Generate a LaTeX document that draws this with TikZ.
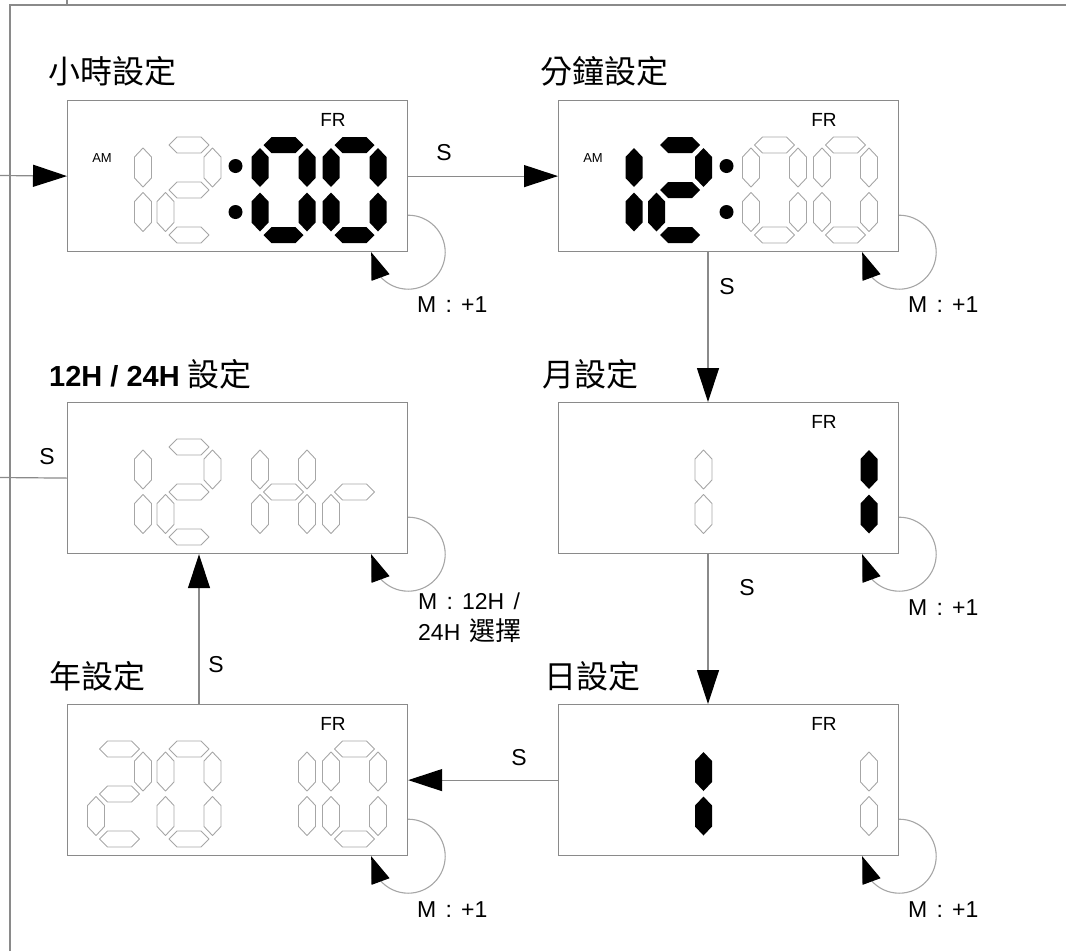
\documentclass[tikz,border=0pt]{standalone}
\usepackage{fontspec}
\setmainfont{Liberation Sans}
\newfontfamily\cjk{Noto Sans CJK TC}
\usetikzlibrary{arrows.meta,bending}

\definecolor{linegray}{HTML}{8A8A8A}
\definecolor{seggray}{HTML}{A6A6A6}

% segment shapes: centre (x,y) in pixel coordinates (y downwards)
\newcommand\hseg[3]{\path[#3] ({#1-20},{-(#2)}) -- ++(8,8) -- ++(24,0) -- ++(8,-8) -- ++(-8,-8) -- ++(-24,0) -- cycle;}
\newcommand\vseg[3]{\path[#3] ({#1},{-(#2)+19.5}) -- ++(8.5,-9) -- ++(0,-21) -- ++(-8.5,-9) -- ++(-8.5,9) -- ++(0,21) -- cycle;}
% seven segments: #1 = x of left column, #2 = y offset of row, #3 = style
\newcommand\segA[3]{\hseg{#1+23.5}{#2+145}{#3}}
\newcommand\segB[3]{\vseg{#1+47}{#2+167.5}{#3}}
\newcommand\segC[3]{\vseg{#1+47}{#2+212}{#3}}
\newcommand\segD[3]{\hseg{#1+23.5}{#2+235}{#3}}
\newcommand\segE[3]{\vseg{#1}{#2+212}{#3}}
\newcommand\segF[3]{\vseg{#1}{#2+167.5}{#3}}
\newcommand\segG[3]{\hseg{#1+23.5}{#2+190}{#3}}
\newcommand\wsp{\hspace{0.4em}}

\begin{document}
\begin{tikzpicture}[x=1pt,y=1pt,
  box/.style={draw=linegray, line width=1.2pt, minimum width=340pt, minimum height=151pt, inner sep=0pt, anchor=north west},
  ln/.style={draw=linegray, line width=1.2pt},
  arr/.style={ln, -{Triangle[length=34pt,width=22pt,color=black]}},
  loopar/.style={draw=seggray, line width=1.1pt, -{Triangle[length=27pt,width=19pt,flex,color=black]}},
  lit/.style={fill=black},
  dim/.style={draw=seggray, line width=0.9pt, line join=round},
  title/.style={anchor=base west, inner sep=0pt, font=\cjk\fontsize{32}{38}\selectfont},
  lbl/.style={inner sep=0pt, font=\fontsize{23}{27}\selectfont},
  mlbl/.style={inner sep=0pt, anchor=west, font=\fontsize{23}{31}\selectfont},
  fr/.style={inner sep=0pt, font=\fontsize{19}{22}\selectfont},
  am/.style={inner sep=0pt, font=\fontsize{13}{15}\selectfont}]
\useasboundingbox (0,0) rectangle (1066,-951);

% frame
\draw[ln] (10,-951) -- (10,-5) -- (1066,-5);
\draw[ln] (67,0) -- (67,-5);

% boxes
\node[box] (b1) at (67,-100) {};
\node[box] (b2) at (558,-100) {};
\node[box] (b3) at (558,-402) {};
\node[box] (b6) at (67,-402) {};
\node[box] (b5) at (67,-704) {};
\node[box] (b4) at (558,-704) {};

% titles
\node[title] (t1) at (48,-83) {小時設定};
\node[title] (t2) at (540,-83) {分鐘設定};
\node[title] (t3) at (542,-386) {月設定};
\node[anchor=base west, inner sep=0pt] (t6) at (49,-386) {\fontsize{29}{34}\selectfont\bfseries 12H / 24H {\cjk\mdseries\fontsize{32}{38}\selectfont 設定}};
\node[title] (t5) at (49,-688) {年設定};
\node[title] (t4) at (544,-688) {日設定};

% box 1 : hours
\node[am] (am1) at (102,-158) {AM};
\node[fr] (fr1) at (333,-120) {FR};
\segB{96}{0}{dim}\segC{96}{0}{dim}
\segA{165.5}{0}{dim}\segB{165.5}{0}{dim}\segG{165.5}{0}{dim}\segE{165.5}{0}{dim}\segD{165.5}{0}{dim}
\fill (235.5,-166) circle (7); \fill (235.5,-212) circle (7);
\segA{260}{0}{lit}\segB{260}{0}{lit}\segC{260}{0}{lit}\segD{260}{0}{lit}\segE{260}{0}{lit}\segF{260}{0}{lit}
\segA{331}{0}{lit}\segB{331}{0}{lit}\segC{331}{0}{lit}\segD{331}{0}{lit}\segE{331}{0}{lit}\segF{331}{0}{lit}

% box 2 : minutes
\node[am] (am2) at (593,-158) {AM};
\node[fr] (fr2) at (824,-120) {FR};
\segB{587}{0}{lit}\segC{587}{0}{lit}
\segA{656.5}{0}{lit}\segB{656.5}{0}{lit}\segG{656.5}{0}{lit}\segE{656.5}{0}{lit}\segD{656.5}{0}{lit}
\fill (726.5,-166) circle (7); \fill (726.5,-212) circle (7);
\segA{751}{0}{dim}\segB{751}{0}{dim}\segC{751}{0}{dim}\segD{751}{0}{dim}\segE{751}{0}{dim}\segF{751}{0}{dim}
\segA{822}{0}{dim}\segB{822}{0}{dim}\segC{822}{0}{dim}\segD{822}{0}{dim}\segE{822}{0}{dim}\segF{822}{0}{dim}

% box 6 : 12H / 24H
\segB{96}{302}{dim}\segC{96}{302}{dim}
\segA{165.5}{302}{dim}\segB{165.5}{302}{dim}\segG{165.5}{302}{dim}\segE{165.5}{302}{dim}\segD{165.5}{302}{dim}
\segB{260}{302}{dim}\segC{260}{302}{dim}\segE{260}{302}{dim}\segF{260}{302}{dim}\segG{260}{302}{dim}
\segE{331}{302}{dim}\segG{331}{302}{dim}

% box 3 : month
\node[fr] (fr3) at (824,-422) {FR};
\segB{656.5}{302}{dim}\segC{656.5}{302}{dim}
\segB{822}{302}{lit}\segC{822}{302}{lit}

% box 5 : year
\node[fr] (fr5) at (333,-724) {FR};
\segA{96}{604}{dim}\segB{96}{604}{dim}\segG{96}{604}{dim}\segE{96}{604}{dim}\segD{96}{604}{dim}
\segA{165.5}{604}{dim}\segB{165.5}{604}{dim}\segC{165.5}{604}{dim}\segD{165.5}{604}{dim}\segE{165.5}{604}{dim}\segF{165.5}{604}{dim}
\segB{260}{604}{dim}\segC{260}{604}{dim}
\segA{331}{604}{dim}\segB{331}{604}{dim}\segC{331}{604}{dim}\segD{331}{604}{dim}\segE{331}{604}{dim}\segF{331}{604}{dim}

% box 4 : day
\node[fr] (fr4) at (824,-724) {FR};
\segB{656.5}{604}{lit}\segC{656.5}{604}{lit}
\segB{822}{604}{dim}\segC{822}{604}{dim}

% connectors
\coordinate (in1) at (0,-175.5);
\coordinate (out6) at (0,-477.5);
\draw[arr] (in1) -- (b1.west);
\draw[arr] (b1.east) -- (b2.west);
\draw[arr] ([xshift=150pt]b2.south west) -- ([xshift=150pt]b3.north west);
\draw[arr] ([xshift=150pt]b3.south west) -- ([xshift=150pt]b4.north west);
\draw[arr] (b4.west) -- (b5.east);
\draw[arr] ([xshift=132pt]b5.north west) -- ([xshift=132pt]b6.south west);
\draw[ln] (b6.west) -- (out6);

% S labels
\node[lbl] (s1) at (444,-153) {S};
\node[lbl] (s2) at (727,-287) {S};
\node[lbl] (s3) at (747,-588) {S};
\node[lbl] (s4) at (519,-758) {S};
\node[lbl] (s5) at (216,-665) {S};
\node[lbl] (s6) at (47,-457) {S};

% self loops
\foreach \b in {b1,b2,b3,b4,b5,b6}
  \draw[loopar] ([yshift=37pt]\b.south east) arc[start angle=90,end angle=-180,radius=37pt];

% M labels
\node[mlbl] (m1) at (417,-305) {M\wsp:\wsp+1};
\node[mlbl] (m2) at (908,-305) {M\wsp:\wsp+1};
\node[mlbl] (m3) at (908,-608) {M\wsp:\wsp+1};
\node[mlbl, align=left, anchor=north west] (m6) at (418,-593) {M\wsp:\wsp12H\wsp/\\24H\wsp{\cjk\fontsize{26}{31}\selectfont 選擇}};
\node[mlbl] (m5) at (417,-910) {M\wsp:\wsp+1};
\node[mlbl] (m4) at (908,-910) {M\wsp:\wsp+1};
\end{tikzpicture}
\end{document}
